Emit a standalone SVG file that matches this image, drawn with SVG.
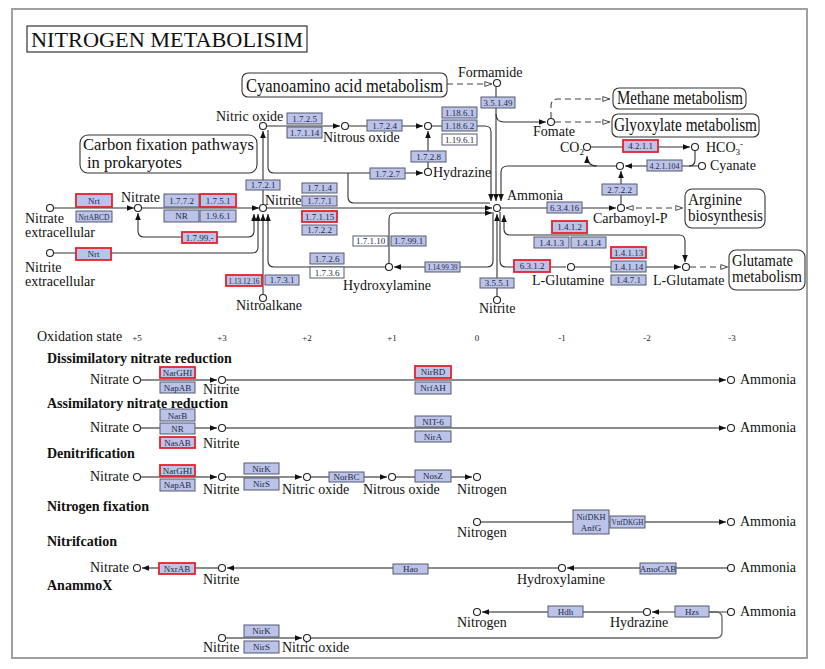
<svg xmlns="http://www.w3.org/2000/svg" width="825" height="669" viewBox="0 0 825 669">
<defs>
<style>
.e{fill:#bcc3e8;stroke:#555a70;stroke-width:1}
.r{fill:#bcc3e8;stroke:#e8212b;stroke-width:1.8}
.w{fill:#fff;stroke:#555a70;stroke-width:1}
.t{font-family:"Liberation Serif",serif;font-size:9px;fill:#222a44;text-anchor:middle}
.n{font-family:"Liberation Serif",serif;font-size:14px;fill:#111}
.c{fill:#fff;stroke:#222;stroke-width:1.1}
.m{fill:#fff;stroke:#333;stroke-width:1.1}
.mt{font-family:"Liberation Serif",serif;font-size:18px;fill:#111}
.mt2{font-family:"Liberation Serif",serif;font-size:16px;fill:#111}
.l{fill:none;stroke:#333;stroke-width:1.1}
.g{fill:none;stroke:#666;stroke-width:1.3}
.d{fill:none;stroke:#444;stroke-width:1.1;stroke-dasharray:6 4}
.h{font-family:"Liberation Serif",serif;font-size:14px;font-weight:bold;fill:#111}
.ox{font-family:"Liberation Serif",serif;font-size:9px;fill:#222;text-anchor:middle}
.ae{marker-end:url(#ar)}
.ab{marker-start:url(#ar);marker-end:url(#ar)}
.oe{marker-end:url(#op)}
.ob{marker-start:url(#op);marker-end:url(#op)}
</style>
<marker id="ar" viewBox="0 0 10 8" refX="10" refY="4" markerWidth="7" markerHeight="5.6" markerUnits="userSpaceOnUse" orient="auto-start-reverse"><path d="M0,0 L10,4 L0,8 z" fill="#111"/></marker>
<marker id="op" viewBox="0 0 10 8" refX="10" refY="4" markerWidth="8" markerHeight="6.4" markerUnits="userSpaceOnUse" orient="auto-start-reverse"><path d="M1,1 L9.5,4 L1,7 z" fill="#fff" stroke="#333" stroke-width="1.1"/></marker>
</defs>
<rect x="0" y="0" width="825" height="669" fill="#fff"/>
<rect x="12" y="9" width="795" height="649" fill="none" stroke="#a0a0a0" stroke-width="2"/>
<g id="title"><rect x="27" y="26" width="280" height="26" fill="#fff" stroke="#333" stroke-width="1.2"/><text x="31" y="47" font-family="Liberation Serif,serif" font-size="22" textLength="272" lengthAdjust="spacingAndGlyphs" fill="#111">NITROGEN METABOLISIM</text></g>

<g id="connectors">
<path class="l ae" d="M54 208 H134"/>
<path class="l ae" d="M142 208 H259"/>
<path class="l ab" d="M254 214 V231 Q254 237 248 237 H144 Q138 237 138 231 V213"/>
<path class="l ae" d="M54 253 H252 Q258 253 258 247 V214"/>
<path class="l ae" d="M263 294 V214"/>
<path class="l ae" d="M385 267 H274 Q268 267 268 261 V214"/>
<path class="l ae" d="M263 204 V131"/>
<path class="l ae" d="M267 126 H340"/>
<path class="l ae" d="M349 126 H423"/>
<path class="l ae" d="M432 126 H485 Q491 126 491 132 V201"/>
<path class="l ae" d="M428 168 V131"/>
<path class="l ae" d="M268 130 V167 Q268 173 274 173 H423"/>
<path class="l" d="M348 173 V197 Q348 203 354 203 H490"/>
<path class="l ae" d="M267 208 H492"/>
<path class="l ae" d="M389 263 V219 Q389 213 395 213 H492"/>
<path class="l ae" d="M493 212 V261 Q493 267 487 267 H394"/>
<path class="d oe" d="M447 84 H492"/>
<path class="l ae" d="M496 87 V201"/>
<path class="l ae" d="M496 114 Q496 122 504 122 H546"/>
<path class="d oe" d="M551 118 V106 Q551 99 558 99 H610"/>
<path class="d oe" d="M555 122 H610"/>
<path class="l ae" d="M591 147 H690"/>
<path class="l" d="M695 151 V160 Q695 166 689 166"/>
<path class="l ae" d="M698 166 H625"/>
<path class="l ae" d="M616 166 H597 Q587 166 587 156"/>
<path class="l ae" d="M597 166 H508 Q501 166 501 172 V201"/>
<path class="l ae" d="M621 204 V171"/>
<path class="l ae" d="M501 208 H616"/>
<path class="d ob" d="M626 208 H683"/>
<path class="l" d="M500 212 V261 Q500 267 506 267 H566"/>
<path class="l ab" d="M504 215 V229 Q504 235 510 235 H679 Q685 235 685 241 V262"/>
<path class="l ae" d="M497 296 V214"/>
<path class="l ae" d="M575 267 H681"/>
<path class="d oe" d="M690 267 H728"/>
<path class="g ae" d="M141 380 H217"/>
<path class="g ae" d="M226 380 H726"/>
<path class="g ae" d="M141 428 H217"/>
<path class="g ae" d="M226 428 H726"/>
<path class="g ae" d="M141 477 H217"/>
<path class="g ae" d="M226 477 H302"/>
<path class="g ae" d="M311 477 H387"/>
<path class="g ae" d="M396 477 H472"/>
<path class="g ae" d="M481 522 H726"/>
<path class="g ae" d="M727 568 H567"/>
<path class="g ae" d="M558 568 H227"/>
<path class="g ae" d="M218 568 H142"/>
<path class="g" d="M727 612 H709"/>
<path class="g ae" d="M675 612 H652"/>
<path class="g ae" d="M643 612 H482"/>
<path class="g ae" d="M226 638 H302"/>
<path class="g" d="M311 638 H716 Q722 638 722 632 V618 Q722 612 716 612 H709"/>
</g>

<g id="map_cyano"><rect class="m" x="242" y="73" width="205" height="24" rx="6"/><text class="mt" x="246" y="92" textLength="197" lengthAdjust="spacingAndGlyphs">Cyanoamino acid metabolism</text></g>
<g id="map_carbon"><rect class="m" x="80" y="135" width="177" height="38" rx="8"/><text class="mt2" x="83" y="150" textLength="171" lengthAdjust="spacingAndGlyphs">Carbon fixation pathways</text><text class="mt2" x="87" y="168" textLength="95" lengthAdjust="spacingAndGlyphs">in prokaryotes</text></g>
<g id="map_methane"><rect class="m" x="613" y="88" width="133" height="21" rx="6"/><text class="mt" x="617" y="104" textLength="126" lengthAdjust="spacingAndGlyphs">Methane metabolism</text></g>
<g id="map_glyox"><rect class="m" x="612" y="114" width="147" height="23" rx="6"/><text class="mt" x="614" y="131" textLength="143" lengthAdjust="spacingAndGlyphs">Glyoxylate metabolism</text></g>
<g id="map_arg"><rect class="m" x="685" y="189" width="80" height="39" rx="7"/><text class="mt2" x="688" y="205" textLength="54" lengthAdjust="spacingAndGlyphs">Arginine</text><text class="mt2" x="688" y="221" textLength="75" lengthAdjust="spacingAndGlyphs">biosynthesis</text></g>
<g id="map_glu"><rect class="m" x="729" y="250" width="76" height="40" rx="7"/><text class="mt2" x="732" y="266" textLength="61" lengthAdjust="spacingAndGlyphs">Glutamate</text><text class="mt2" x="732" y="282" textLength="70" lengthAdjust="spacingAndGlyphs">metabolism</text></g>

<g id="c_nitrate_ext"><circle class="c" cx="50" cy="208" r="3.5"/><text class="n" x="25" y="223">Nitrate</text><text class="n" x="25" y="237">extracellular</text></g>
<g id="c_nitrite_ext"><circle class="c" cx="50" cy="253" r="3.5"/><text class="n" x="25" y="272">Nitrite</text><text class="n" x="25" y="286">extracellular</text></g>
<g id="c_nitrate"><circle class="c" cx="138" cy="208" r="3.5"/><text class="n" x="121" y="202">Nitrate</text></g>
<g id="c_nitrite"><circle class="c" cx="263" cy="208" r="3.5"/><text class="n" x="265" y="205">Nitrite</text></g>
<g id="c_no"><circle class="c" cx="263" cy="126" r="3.5"/><text class="n" x="216" y="121">Nitric oxide</text></g>
<g id="c_n2o"><circle class="c" cx="345" cy="126" r="3.5"/><text class="n" x="323" y="142">Nitrous oxide</text></g>
<g id="c_n2"><circle class="c" cx="428" cy="126" r="3.5"/></g>
<g id="c_hydrazine"><circle class="c" cx="428" cy="172" r="3.5"/><text class="n" x="433" y="177">Hydrazine</text></g>
<g id="c_formamide"><circle class="c" cx="497" cy="83" r="3.5"/><text class="n" x="458" y="77">Formamide</text></g>
<g id="c_fomate"><circle class="c" cx="551" cy="122" r="3.5"/><text class="n" x="533" y="136">Fomate</text></g>
<g id="c_co2"><circle class="c" cx="587" cy="147" r="3.5"/><text class="n" x="560" y="152">CO<tspan font-size="9" dy="3">2</tspan></text></g>
<g id="c_hco3"><circle class="c" cx="695" cy="147" r="3.5"/><text class="n" x="706" y="152">HCO<tspan font-size="9" dy="3">3</tspan><tspan font-size="9" dy="-8">-</tspan></text></g>
<g id="c_cyanate"><circle class="c" cx="702" cy="166" r="3.5"/><text class="n" x="710" y="170">Cyanate</text></g>
<g id="c_carbamate"><circle class="c" cx="620" cy="166" r="3.5"/></g>
<g id="c_ammonia"><circle class="c" cx="497" cy="208" r="3.5"/><text class="n" x="507" y="200">Ammonia</text></g>
<g id="c_carbamoyl"><circle class="c" cx="621" cy="208" r="3.5"/><text class="n" x="593" y="223">Carbamoyl-P</text></g>
<g id="c_hydroxylamine"><circle class="c" cx="389" cy="267" r="3.5"/><text class="n" x="343" y="290">Hydroxylamine</text></g>
<g id="c_nitroalkane"><circle class="c" cx="263" cy="298" r="3.5"/><text class="n" x="236" y="310">Nitroalkane</text></g>
<g id="c_nitrite2"><circle class="c" cx="497" cy="300" r="3.5"/><text class="n" x="479" y="313">Nitrite</text></g>
<g id="c_gln"><circle class="c" cx="571" cy="267" r="3.5"/><text class="n" x="532" y="285">L-Glutamine</text></g>
<g id="c_glu"><circle class="c" cx="686" cy="267" r="3.5"/><text class="n" x="653" y="285">L-Glutamate</text></g>

<g id="e_1725"><rect class="e" x="287" y="113" width="35" height="11"/><text class="t" x="304.5" y="121.5">1.7.2.5</text></g>
<g id="e_17114"><rect class="e" x="287" y="127" width="35" height="11"/><text class="t" x="304.5" y="135.5">1.7.1.14</text></g>
<g id="e_1724"><rect class="e" x="367" y="120" width="35" height="11"/><text class="t" x="384.5" y="128.5">1.7.2.4</text></g>
<g id="e_11861"><rect class="e" x="442" y="107" width="35" height="11"/><text class="t" x="459.5" y="115.5">1.18.6.1</text></g>
<g id="e_11862"><rect class="e" x="442" y="120" width="35" height="11"/><text class="t" x="459.5" y="128.5">1.18.6.2</text></g>
<g id="e_11961"><rect class="w" x="442" y="134" width="35" height="11"/><text class="t" x="459.5" y="142.5">1.19.6.1</text></g>
<g id="e_1728"><rect class="e" x="411" y="151" width="35" height="11"/><text class="t" x="428.5" y="159.5">1.7.2.8</text></g>
<g id="e_1727"><rect class="e" x="370" y="168" width="35" height="11"/><text class="t" x="387.5" y="176.5">1.7.2.7</text></g>
<g id="e_35149"><rect class="e" x="481" y="97" width="34" height="11"/><text class="t" x="498" y="105.5" textLength="29" lengthAdjust="spacingAndGlyphs">3.5.1.49</text></g>
<g id="e_4211"><rect class="r" x="623" y="140" width="35" height="12"/><text class="t" x="640.5" y="149">4.2.1.1</text></g>
<g id="e_421104"><rect class="e" x="647" y="160" width="35" height="11"/><text class="t" x="664.5" y="168.5" textLength="30" lengthAdjust="spacingAndGlyphs">4.2.1.104</text></g>
<g id="e_2722"><rect class="e" x="602" y="184" width="35" height="11"/><text class="t" x="619.5" y="192.5">2.7.2.2</text></g>
<g id="e_63416"><rect class="e" x="547" y="202" width="35" height="11"/><text class="t" x="564.5" y="210.5">6.3.4.16</text></g>
<g id="e_1412"><rect class="r" x="552" y="221" width="35" height="12"/><text class="t" x="569.5" y="230">1.4.1.2</text></g>
<g id="e_1413"><rect class="e" x="534" y="237" width="35" height="11"/><text class="t" x="551.5" y="245.5">1.4.1.3</text></g>
<g id="e_1414"><rect class="e" x="571" y="237" width="35" height="11"/><text class="t" x="588.5" y="245.5">1.4.1.4</text></g>
<g id="e_6312"><rect class="r" x="514" y="260" width="36" height="12"/><text class="t" x="532" y="269">6.3.1.2</text></g>
<g id="e_14113"><rect class="r" x="611" y="247" width="35" height="11"/><text class="t" x="628.5" y="255.5">1.4.1.13</text></g>
<g id="e_14114"><rect class="e" x="611" y="261" width="35" height="11"/><text class="t" x="628.5" y="269.5">1.4.1.14</text></g>
<g id="e_1471"><rect class="e" x="611" y="275" width="35" height="10"/><text class="t" x="628.5" y="283">1.4.7.1</text></g>
<g id="e_3551"><rect class="e" x="480" y="278" width="34" height="10"/><text class="t" x="497" y="286">3.5.5.1</text></g>
<g id="e_1149939"><rect class="e" x="425" y="262" width="35" height="10"/><text class="t" x="442.5" y="270" textLength="30" lengthAdjust="spacingAndGlyphs">1.14.99.39</text></g>
<g id="e_17110"><rect class="w" x="353" y="236" width="35" height="10"/><text class="t" x="370.5" y="244">1.7.1.10</text></g>
<g id="e_17991"><rect class="e" x="391" y="236" width="35" height="10"/><text class="t" x="408.5" y="244">1.7.99.1</text></g>
<g id="e_1726"><rect class="e" x="310" y="253" width="34" height="11"/><text class="t" x="327" y="261.5">1.7.2.6</text></g>
<g id="e_1736"><rect class="w" x="310" y="267" width="34" height="11"/><text class="t" x="327" y="275.5">1.7.3.6</text></g>
<g id="e_1131216"><rect class="r" x="226" y="275" width="36" height="11"/><text class="t" x="244" y="283.5" textLength="31" lengthAdjust="spacingAndGlyphs">1.13.12.16</text></g>
<g id="e_1731"><rect class="e" x="265" y="275" width="34" height="10"/><text class="t" x="282" y="283">1.7.3.1</text></g>
<g id="e_1721"><rect class="e" x="246" y="180" width="34" height="10"/><text class="t" x="263" y="188">1.7.2.1</text></g>
<g id="e_1714"><rect class="e" x="302" y="183" width="35" height="10"/><text class="t" x="319.5" y="191">1.7.1.4</text></g>
<g id="e_1771"><rect class="e" x="302" y="196" width="35" height="10"/><text class="t" x="319.5" y="204">1.7.7.1</text></g>
<g id="e_17115"><rect class="r" x="302" y="211" width="35" height="11"/><text class="t" x="319.5" y="219.5">1.7.1.15</text></g>
<g id="e_1722"><rect class="e" x="302" y="225" width="35" height="10"/><text class="t" x="319.5" y="233">1.7.2.2</text></g>
<g id="e_nrt1"><rect class="r" x="76" y="194" width="36" height="13"/><text class="t" x="94" y="203.5">Nrt</text></g>
<g id="e_nrtabcd"><rect class="e" x="76" y="211" width="36" height="11"/><text class="t" x="94" y="219.5" textLength="31" lengthAdjust="spacingAndGlyphs">NrtABCD</text></g>
<g id="e_1772"><rect class="e" x="164" y="194" width="35" height="13"/><text class="t" x="181.5" y="203.5">1.7.7.2</text></g>
<g id="e_1751"><rect class="r" x="200" y="194" width="36" height="13"/><text class="t" x="218" y="203.5">1.7.5.1</text></g>
<g id="e_nr1"><rect class="e" x="164" y="210" width="35" height="12"/><text class="t" x="181.5" y="219">NR</text></g>
<g id="e_1961"><rect class="e" x="200" y="210" width="36" height="12"/><text class="t" x="218" y="219">1.9.6.1</text></g>
<g id="e_1799x"><rect class="r" x="182" y="232" width="35" height="11"/><text class="t" x="199.5" y="240.5">1.7.99.-</text></g>
<g id="e_nrt2"><rect class="r" x="76" y="248" width="35" height="12"/><text class="t" x="93.5" y="257">Nrt</text></g>

<g id="oxidation"><text class="n" x="37" y="341">Oxidation state</text>
<text class="ox" x="137" y="341">+5</text><text class="ox" x="222" y="341">+3</text><text class="ox" x="307" y="341">+2</text><text class="ox" x="392" y="341">+1</text><text class="ox" x="477" y="341">0</text><text class="ox" x="562" y="341">-1</text><text class="ox" x="647" y="341">-2</text><text class="ox" x="732" y="341">-3</text></g>

<g id="headings">
<text class="h" x="47" y="363">Dissimilatory nitrate reduction</text>
<text class="h" x="47" y="408">Assimilatory nitrate reduction</text>
<text class="h" x="47" y="458">Denitrification</text>
<text class="h" x="47" y="511">Nitrogen fixation</text>
<text class="h" x="47" y="546">Nitrifcation</text>
<text class="h" x="47" y="590">AnammoX</text>
</g>

<g id="b1_nitrate"><circle class="c" cx="137" cy="380" r="3.5"/><text class="n" x="90" y="384">Nitrate</text></g>
<g id="b1_nitrite"><circle class="c" cx="222" cy="380" r="3.5"/><text class="n" x="203" y="394">Nitrite</text></g>
<g id="b1_ammonia"><circle class="c" cx="731" cy="380" r="3.5"/><text class="n" x="740" y="384">Ammonia</text></g>
<g id="b2_nitrate"><circle class="c" cx="137" cy="428" r="3.5"/><text class="n" x="90" y="432">Nitrate</text></g>
<g id="b2_nitrite"><circle class="c" cx="222" cy="428" r="3.5"/><text class="n" x="203" y="448">Nitrite</text></g>
<g id="b2_ammonia"><circle class="c" cx="731" cy="428" r="3.5"/><text class="n" x="740" y="432">Ammonia</text></g>
<g id="b3_nitrate"><circle class="c" cx="137" cy="477" r="3.5"/><text class="n" x="90" y="481">Nitrate</text></g>
<g id="b3_nitrite"><circle class="c" cx="222" cy="477" r="3.5"/><text class="n" x="203" y="494">Nitrite</text></g>
<g id="b3_no"><circle class="c" cx="307" cy="477" r="3.5"/><text class="n" x="282" y="494">Nitric oxide</text></g>
<g id="b3_n2o"><circle class="c" cx="392" cy="477" r="3.5"/><text class="n" x="363" y="494">Nitrous oxide</text></g>
<g id="b3_n2"><circle class="c" cx="477" cy="477" r="3.5"/><text class="n" x="457" y="494">Nitrogen</text></g>
<g id="b4_n2"><circle class="c" cx="477" cy="522" r="3.5"/><text class="n" x="457" y="537">Nitrogen</text></g>
<g id="b4_ammonia"><circle class="c" cx="731" cy="522" r="3.5"/><text class="n" x="740" y="526">Ammonia</text></g>
<g id="b5_nitrate"><circle class="c" cx="137" cy="568" r="3.5"/><text class="n" x="90" y="572">Nitrate</text></g>
<g id="b5_nitrite"><circle class="c" cx="222" cy="568" r="3.5"/><text class="n" x="203" y="584">Nitrite</text></g>
<g id="b5_nh2oh"><circle class="c" cx="562" cy="568" r="3.5"/><text class="n" x="517" y="584">Hydroxylamine</text></g>
<g id="b5_ammonia"><circle class="c" cx="731" cy="568" r="3.5"/><text class="n" x="740" y="572">Ammonia</text></g>
<g id="b6_n2"><circle class="c" cx="477" cy="612" r="3.5"/><text class="n" x="457" y="627">Nitrogen</text></g>
<g id="b6_hydrazine"><circle class="c" cx="647" cy="612" r="3.5"/><text class="n" x="610" y="627">Hydrazine</text></g>
<g id="b6_ammonia"><circle class="c" cx="731" cy="612" r="3.5"/><text class="n" x="740" y="616">Ammonia</text></g>
<g id="b6_nitrite"><circle class="c" cx="222" cy="638" r="3.5"/><text class="n" x="203" y="652">Nitrite</text></g>
<g id="b6_no"><circle class="c" cx="307" cy="638" r="3.5"/><text class="n" x="282" y="652">Nitric oxide</text></g>

<g id="b_narghi1"><rect class="r" x="160" y="367" width="35" height="11"/><text class="t" x="177.5" y="375.5">NarGHI</text></g>
<g id="b_napab1"><rect class="e" x="160" y="382" width="35" height="11"/><text class="t" x="177.5" y="390.5">NapAB</text></g>
<g id="b_nirbd"><rect class="r" x="415" y="366" width="36" height="12"/><text class="t" x="433" y="375">NirBD</text></g>
<g id="b_nrfah"><rect class="e" x="415" y="382" width="36" height="12"/><text class="t" x="433" y="391">NrfAH</text></g>
<g id="b_narb"><rect class="e" x="160" y="409" width="35" height="12"/><text class="t" x="177.5" y="419">NarB</text></g>
<g id="b_nr"><rect class="e" x="160" y="423" width="35" height="11"/><text class="t" x="177.5" y="431.5">NR</text></g>
<g id="b_nasab"><rect class="r" x="160" y="437" width="35" height="11"/><text class="t" x="177.5" y="445.5">NasAB</text></g>
<g id="b_nit6"><rect class="e" x="415" y="416" width="36" height="11"/><text class="t" x="433" y="424.5">NIT-6</text></g>
<g id="b_nira"><rect class="e" x="415" y="431" width="36" height="11"/><text class="t" x="433" y="439.5">NirA</text></g>
<g id="b_narghi2"><rect class="r" x="160" y="465" width="35" height="11"/><text class="t" x="177.5" y="473.5">NarGHI</text></g>
<g id="b_napab2"><rect class="e" x="160" y="479" width="35" height="12"/><text class="t" x="177.5" y="488">NapAB</text></g>
<g id="b_nirk1"><rect class="e" x="244" y="463" width="35" height="11"/><text class="t" x="261.5" y="471.5">NirK</text></g>
<g id="b_nirs1"><rect class="e" x="244" y="478" width="35" height="12"/><text class="t" x="261.5" y="487">NirS</text></g>
<g id="b_norbc"><rect class="e" x="329" y="472" width="35" height="10"/><text class="t" x="346.5" y="480">NorBC</text></g>
<g id="b_nosz"><rect class="e" x="415" y="470" width="36" height="12"/><text class="t" x="433" y="479">NosZ</text></g>
<g id="b_nif"><rect class="e" x="573" y="510" width="36" height="24"/><text class="t" x="591" y="519.5" textLength="29" lengthAdjust="spacingAndGlyphs">NifDKH</text><text class="t" x="591" y="531">AnfG</text></g>
<g id="b_vnf"><rect class="e" x="610" y="516" width="35" height="12"/><text class="t" x="627.5" y="525" textLength="32" lengthAdjust="spacingAndGlyphs">VnfDKGH</text></g>
<g id="b_nxrab"><rect class="r" x="159" y="563" width="36" height="11"/><text class="t" x="177" y="571.5">NxrAB</text></g>
<g id="b_hao"><rect class="e" x="393" y="564" width="35" height="10"/><text class="t" x="410.5" y="572">Hao</text></g>
<g id="b_amocab"><rect class="e" x="640" y="563" width="36" height="11"/><text class="t" x="658" y="571.5">AmoCAB</text></g>
<g id="b_hdh"><rect class="e" x="548" y="606" width="35" height="11"/><text class="t" x="565.5" y="614.5">Hdh</text></g>
<g id="b_hzs"><rect class="e" x="675" y="606" width="34" height="11"/><text class="t" x="692" y="614.5">Hzs</text></g>
<g id="b_nirk2"><rect class="e" x="244" y="625" width="35" height="12"/><text class="t" x="261.5" y="634">NirK</text></g>
<g id="b_nirs2"><rect class="e" x="244" y="641" width="35" height="12"/><text class="t" x="261.5" y="650">NirS</text></g>
</svg>
